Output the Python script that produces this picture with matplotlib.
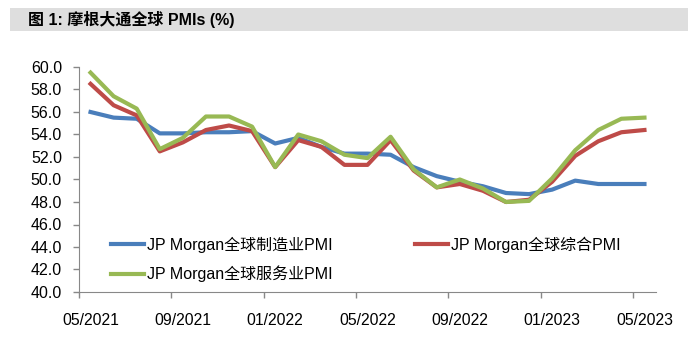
import numpy as np
import matplotlib
matplotlib.use("Agg")
import matplotlib.pyplot as plt
from matplotlib.patches import Rectangle

plt.rcParams['font.family'] = ['Liberation Sans', 'Noto Sans CJK SC', 'DejaVu Sans']

# monthly data 05/2021 - 05/2023
months = ["05/2021", "06/2021", "07/2021", "08/2021", "09/2021", "10/2021", "11/2021", "12/2021",
          "01/2022", "02/2022", "03/2022", "04/2022", "05/2022", "06/2022", "07/2022", "08/2022",
          "09/2022", "10/2022", "11/2022", "12/2022", "01/2023", "02/2023", "03/2023", "04/2023",
          "05/2023"]
manuf = [56.0, 55.5, 55.4, 54.1, 54.1, 54.2, 54.2, 54.3, 53.2, 53.7, 52.9, 52.3, 52.3,
         52.2, 51.1, 50.3, 49.8, 49.4, 48.8, 48.7, 49.1, 49.9, 49.6, 49.6, 49.6]
composite = [58.5, 56.6, 55.7, 52.5, 53.3, 54.4, 54.8, 54.3, 51.1, 53.5, 52.9, 51.3, 51.3,
             53.5, 50.8, 49.3, 49.6, 49.0, 48.0, 48.2, 49.8, 52.1, 53.4, 54.2, 54.4]
services = [59.5, 57.4, 56.3, 52.7, 53.7, 55.6, 55.6, 54.7, 51.1, 54.0, 53.4, 52.2, 51.9,
            53.8, 50.9, 49.3, 50.0, 49.2, 48.0, 48.1, 50.1, 52.6, 54.4, 55.4, 55.5]
labels = ["JP Morgan全球制造业PMI", "JP Morgan全球综合PMI", "JP Morgan全球服务业PMI"]
colors = ["#4a7ebb", "#be4b48", "#98b954"]

W, H = 688, 353
fig = plt.figure(figsize=(W / 100, H / 100), dpi=100)

# title banner
fig.patches.append(Rectangle((10 / W, 1 - 31 / H), 1 - 10 / W, 23 / H,
                             transform=fig.transFigure, facecolor="#dedede",
                             edgecolor="none", zorder=0))
fig.text(28 / W, 1 - 20 / H, "图 1: 摩根大通全球 PMIs (%)", fontsize=11.5,
         fontweight="bold", va="center", ha="left")

ax = fig.add_axes([79 / W, 61 / H, (656 - 79) / W, (292 - 67) / H])
x = np.arange(len(months))
l1, = ax.plot(x, manuf, color=colors[0], lw=3)
l2, = ax.plot(x, composite, color=colors[1], lw=3)
l3, = ax.plot(x, services, color=colors[2], lw=3)

ax.set_xlim(-0.5, len(months) - 0.5)
ax.set_ylim(40, 60)
ax.set_yticks(np.arange(40, 60.1, 2))
ax.set_yticklabels([f"{v:.1f}" for v in np.arange(40, 60.1, 2)])
# tick marks at category edges, labels under the points
tick_idx = list(range(0, len(months), 4))
ax.set_xticks([i - 0.5 for i in tick_idx])
ax.set_xticklabels([])
ax.set_xticks(tick_idx, minor=True)
ax.set_xticklabels([months[i] for i in tick_idx], minor=True)
ax.tick_params(axis="x", which="major", color="#888888", length=4, width=1)
ax.tick_params(axis="x", which="minor", length=0, pad=15, labelsize=11.3)
ax.tick_params(axis="y", color="#888888", length=4.3, width=1, pad=8, labelsize=11.5)
for s in ["top", "right"]:
    ax.spines[s].set_visible(False)
for s in ["left", "bottom"]:
    ax.spines[s].set_color("#888888")

ax.legend([l1, l3, l2], [labels[0], labels[2], labels[1]], ncol=2, frameon=False,
          fontsize=11.5, loc="lower left", bbox_to_anchor=(0.03, -0.02),
          handlelength=2.1, handletextpad=0.2, columnspacing=5.1, labelspacing=0.8)

fig.savefig("out.png", dpi=100)
